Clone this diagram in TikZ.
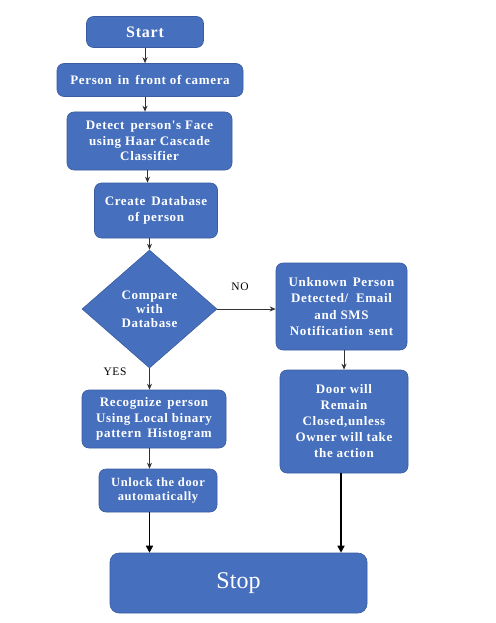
\documentclass[tikz,border=0pt]{standalone}
\usepackage{fontspec}
\setmainfont{Liberation Serif}
\newfontfamily\boxfont[LetterSpace=5]{Liberation Serif}
\usetikzlibrary{shapes.geometric,arrows.meta,calc}
\definecolor{boxblue}{RGB}{70,111,189}
\definecolor{boxedge}{RGB}{58,92,160}
\definecolor{arrgray}{RGB}{50,50,50}
\begin{document}
\begin{tikzpicture}[x=1pt,y=-1pt,
  box/.style={rectangle,rounded corners=7pt,fill=boxblue,draw=boxedge,line width=0.6pt,
    text=white,font=\boxfont\fontsize{13}{15.5}\selectfont\bfseries,align=center,inner sep=0pt},
  dia/.style={diamond,fill=boxblue,draw=boxedge,line width=0.6pt,text=white,
    font=\boxfont\fontsize{13}{14}\selectfont\bfseries,align=center,inner sep=0pt},
  arr/.style={draw=arrgray,line width=0.8pt,-{Stealth[length=6pt,width=5pt]}},
  barr/.style={draw=black,line width=1.5pt,-{Triangle[length=7pt,width=7pt]}},
  lbl/.style={font=\boxfont\fontsize{11.5}{13}\selectfont,text=black}]
\useasboundingbox (0,0) rectangle (495,623);
\node[box,minimum width=117pt,minimum height=31pt,font=\boxfont\fontsize{16}{18}\selectfont\bfseries] (start) at (145,32) {Start};
\node[box,minimum width=186pt,minimum height=33pt] (person) at (150,80) {Person \,in \,front of camera};
\node[box,minimum width=165pt,minimum height=58pt] (detect) at (149.5,141) {Detect \,person's Face\\using Haar Cascade\\Classifier};
\node[box,minimum width=123pt,minimum height=55pt] (create) at (156,210.5) {Create \,Database\\of person};
\node[dia,minimum width=135pt,minimum height=118pt] (cmp) at (149.5,309) {Compare\\with\\Database};
\node[box,minimum width=131pt,minimum height=87pt,font=\boxfont\fontsize{13}{16.5}\selectfont\bfseries] (unk) at (341.5,306.5) {Unknown \,Person\\Detected/ \ Email\\and SMS\\Notification \,sent};
\node[box,minimum width=128pt,minimum height=103pt,font=\boxfont\fontsize{13}{16}\selectfont\bfseries] (door) at (344,421.5) {Door will\\Remain\\Closed,unless\\Owner will take\\the action};
\node[box,minimum width=144pt,minimum height=58pt] (rec) at (154,419) {Recognize \,person\\Using Local binary\\pattern \,Histogram};
\node[box,minimum width=118pt,minimum height=43pt,font=\boxfont\fontsize{12.5}{14}\selectfont\bfseries] (unl) at (158,490.5) {Unlock the door\\automatically};
\node[box,minimum width=257pt,minimum height=60pt,rounded corners=9pt,font=\fontsize{24}{26}\selectfont] (stop) at (238.5,583) {Stop};
\node[lbl] (no) at (240,287) {NO};
\node[lbl] (yes) at (115,372) {YES};
\draw[arr] (start.south) -- (start.south |- person.north);
\draw[arr] (person.south -| start.south) -- (detect.north -| start.south);
\draw[arr] ($(detect.south)+(-2,0)$) -- ($(detect.south |- create.north)+(-2,0)$);
\draw[arr] (create.south -| cmp.north) -- (cmp.north);
\draw[arr] (cmp.east) -- (cmp.east -| unk.west);
\draw[arr] (unk.south -| door.north) -- (door.north);
\draw[arr] (cmp.south) -- (cmp.south |- rec.north);
\draw[arr] (rec.south -| cmp.south) -- (unl.north -| cmp.south);
\draw[barr] (unl.south -| cmp.south) -- (stop.north -| cmp.south);
\draw[barr] ($(door.south)+(-3,0)$) -- ($(door.south |- stop.north)+(-3,0)$);
\end{tikzpicture}
\end{document}
